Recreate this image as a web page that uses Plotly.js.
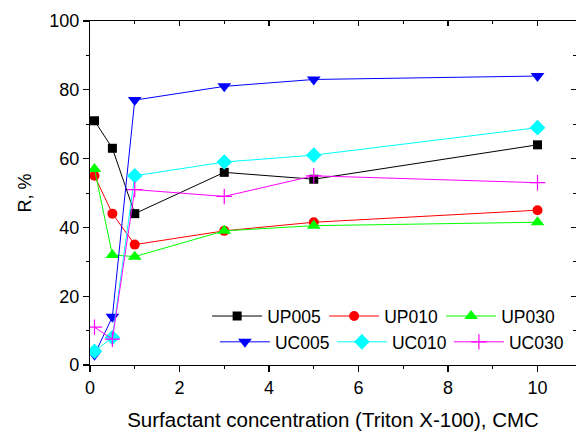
<!DOCTYPE html>
<html>
<head>
<meta charset="utf-8">
<script src="https://cdn.plot.ly/plotly-3.0.1.min.js"></script>
<style>html,body{margin:0;padding:0;background:#fff;}#chart{width:576px;height:431px;}</style>
</head>
<body>
<div id="chart"></div>
<script>
const conc = [0.1, 0.5, 1, 3, 5, 10];
const UP005 = [71, 63, 44, 56, 54, 64];
const UP010 = [55, 44, 35, 39, 41.5, 45];
const UP030 = [57, 32, 31.5, 39, 40.5, 41.5];
const UC005 = [3, 14, 77, 81, 83, 84];
const UC010 = [4, 8, 55, 59, 61, 69];
const UC030 = [11, 7.5, 51, 49, 55, 53];
const seriesNames = ['UP005', 'UP010', 'UP030', 'UC005', 'UC010', 'UC030'];
const xTitle = 'Surfactant concentration (Triton X-100), CMC';
const yTitle = 'R, %';

const FONT = 'Arial, "Liberation Sans", sans-serif';
const styles = [
  {color: '#000000', symbol: 'square', size: 9, legend: 'legend'},
  {color: '#ff0000', symbol: 'circle', size: 10, legend: 'legend'},
  {color: '#00ff00', symbol: 'triangle-up', size: 12, legend: 'legend'},
  {color: '#0000ff', symbol: 'triangle-down', size: 12, legend: 'legend2'},
  {color: '#00ffff', symbol: 'diamond', size: 12, legend: 'legend2'},
  {color: '#ff00ff', symbol: 'cross-thin', size: 11, legend: 'legend2'}
];
const values = [UP005, UP010, UP030, UC005, UC010, UC030];

const traces = values.map((v, i) => ({
  x: conc, y: v, name: seriesNames[i], type: 'scatter', mode: 'lines+markers',
  legend: styles[i].legend,
  line: {color: styles[i].color, width: 1},
  marker: {color: styles[i].color, symbol: styles[i].symbol, size: styles[i].size,
           line: {color: styles[i].color, width: styles[i].symbol === 'cross-thin' ? 1.2 : 0}}
}));
traces.push({x: [], y: [], xaxis: 'x2', yaxis: 'y2', showlegend: false, hoverinfo: 'skip'});

const xr = [0, 10.86];
const yr = [0, 100];
const legendBase = {orientation: 'h', bgcolor: 'rgba(0,0,0,0)', borderwidth: 0,
  font: {family: FONT, size: 17.5, color: '#000'}, xanchor: 'left', yanchor: 'middle',
  entrywidth: 52, itemwidth: 50, tracegroupgap: 0};

const layout = {
  width: 576, height: 431,
  margin: {l: 90, r: 0, t: 21, b: 66, pad: 0, autoexpand: false},
  paper_bgcolor: '#fff', plot_bgcolor: '#fff',
  font: {family: FONT, size: 18, color: '#000'},
  showlegend: true,
  legend: Object.assign({}, legendBase, {x: 0.241, y: 0.142}),
  legend2: Object.assign({}, legendBase, {x: 0.257, y: 0.067}),
  xaxis: {
    range: xr, dtick: 2, tick0: 0, showgrid: false, zeroline: false,
    showline: true, linecolor: '#000', linewidth: 1.2,
    ticks: 'outside', ticklen: 6, tickwidth: 1.2, tickcolor: '#000',
    minor: {dtick: 1, ticks: 'outside', ticklen: 3, tickwidth: 1, tickcolor: '#000', showgrid: false},
    tickfont: {family: FONT, size: 18},
    title: {text: xTitle, font: {family: FONT, size: 20.5}, standoff: 21}
  },
  yaxis: {
    range: yr, dtick: 20, tick0: 0, showgrid: false, zeroline: false,
    showline: true, linecolor: '#000', linewidth: 1.2,
    ticks: 'outside', ticklen: 6, tickwidth: 1.2, tickcolor: '#000',
    minor: {dtick: 10, ticks: 'outside', ticklen: 3, tickwidth: 1, tickcolor: '#000', showgrid: false},
    tickfont: {family: FONT, size: 18},
    title: {text: yTitle, font: {family: FONT, size: 18}, standoff: 12}
  },
  xaxis2: {
    overlaying: 'x', side: 'top', anchor: 'y', range: xr, dtick: 2, tick0: 0,
    showgrid: false, zeroline: false, showticklabels: false,
    showline: true, linecolor: '#000', linewidth: 1.2,
    ticks: 'inside', ticklen: 5, tickwidth: 1.2, tickcolor: '#000',
    minor: {dtick: 1, ticks: 'inside', ticklen: 3, tickwidth: 1, tickcolor: '#000', showgrid: false}
  },
  yaxis2: {
    overlaying: 'y', side: 'right', anchor: 'x', range: yr, dtick: 20, tick0: 0,
    showgrid: false, zeroline: false, showticklabels: false,
    showline: true, linecolor: '#000', linewidth: 1.2,
    ticks: 'inside', ticklen: 5, tickwidth: 1.2, tickcolor: '#000',
    minor: {dtick: 10, ticks: 'inside', ticklen: 3, tickwidth: 1, tickcolor: '#000', showgrid: false}
  }
};

Plotly.newPlot('chart', traces, layout, {staticPlot: true, displayModeBar: false});
</script>
</body>
</html>
